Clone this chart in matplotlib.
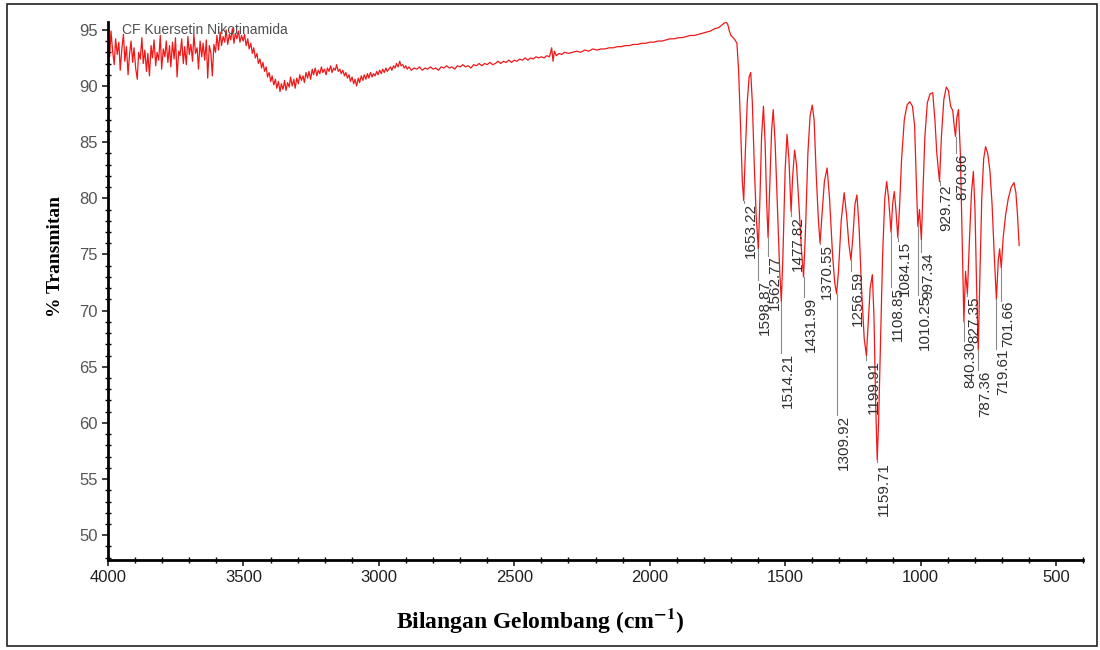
import matplotlib
matplotlib.use("Agg")
import matplotlib.pyplot as plt
from matplotlib.ticker import MultipleLocator
from matplotlib.patches import Rectangle

plt.rcParams['mathtext.fontset'] = 'stix'

# spectrum: wavenumber (cm-1) and %T
wavenumber = [
    4000, 3994, 3989, 3983, 3977, 3972, 3966, 3960, 3955, 3949, 3943, 3938, 3932, 3926, 3921,
    3915, 3909, 3904, 3898, 3892, 3887, 3881, 3875, 3870, 3864, 3858, 3853, 3847, 3841, 3836,
    3830, 3824, 3819, 3813, 3807, 3802, 3796, 3790, 3785, 3779, 3773, 3768, 3762, 3756, 3751,
    3745, 3739, 3734, 3728, 3722, 3717, 3711, 3705, 3700, 3694, 3688, 3683, 3677, 3671, 3666,
    3660, 3654, 3649, 3643, 3637, 3632, 3626, 3620, 3615, 3609, 3603, 3598, 3592, 3586, 3581,
    3575, 3569, 3564, 3558, 3552, 3547, 3541, 3535, 3530, 3524, 3518, 3513, 3507, 3501, 3496,
    3490, 3484, 3479, 3473, 3467, 3462, 3456, 3450, 3445, 3439, 3433, 3428, 3422, 3416, 3411,
    3405, 3399, 3394, 3388, 3382, 3377, 3371, 3365, 3360, 3354, 3348, 3343, 3337, 3331, 3326,
    3320, 3314, 3309, 3303, 3297, 3292, 3286, 3280, 3275, 3269, 3263, 3258, 3252, 3246, 3241,
    3235, 3229, 3224, 3218, 3212, 3207, 3201, 3195, 3190, 3184, 3178, 3173, 3167, 3161, 3156,
    3150, 3144, 3139, 3133, 3127, 3122, 3116, 3110, 3105, 3099, 3093, 3088, 3082, 3076, 3071,
    3065, 3059, 3054, 3048, 3042, 3037, 3031, 3025, 3020, 3014, 3008, 3003, 2997, 2991, 2986,
    2980, 2974, 2969, 2963, 2957, 2952, 2946, 2940, 2935, 2929, 2923, 2918, 2912, 2906, 2901,
    2895, 2889, 2880, 2870, 2860, 2850, 2840, 2830, 2820, 2810, 2800, 2790, 2780, 2770, 2760,
    2750, 2740, 2730, 2720, 2710, 2700, 2690, 2680, 2670, 2660, 2650, 2640, 2630, 2620, 2610,
    2600, 2590, 2580, 2570, 2560, 2550, 2540, 2530, 2520, 2510, 2500, 2490, 2480, 2470, 2460,
    2450, 2440, 2430, 2420, 2410, 2400, 2390, 2380, 2370, 2362, 2357, 2352, 2345, 2335, 2325,
    2315, 2300, 2285, 2270, 2255, 2240, 2225, 2210, 2195, 2180, 2165, 2150, 2135, 2120, 2105,
    2090, 2075, 2060, 2045, 2030, 2015, 2000, 1985, 1970, 1955, 1940, 1925, 1910, 1895, 1880,
    1865, 1850, 1835, 1820, 1805, 1790, 1775, 1760, 1745, 1735, 1725, 1718, 1712, 1706, 1700,
    1692, 1685, 1678, 1672, 1664, 1658, 1653, 1647, 1640, 1633, 1627, 1621, 1614, 1607, 1599,
    1593, 1587, 1580, 1574, 1568, 1563, 1557, 1550, 1544, 1537, 1528, 1520, 1514, 1508, 1500,
    1493, 1486, 1478, 1472, 1465, 1458, 1448, 1440, 1432, 1425, 1416, 1408, 1400, 1393, 1385,
    1377, 1371, 1364, 1355, 1345, 1336, 1325, 1317, 1310, 1303, 1293, 1282, 1273, 1265, 1257,
    1250, 1242, 1235, 1227, 1218, 1208, 1200, 1194, 1186, 1178, 1172, 1166, 1160, 1155, 1148,
    1140, 1132, 1125, 1118, 1109, 1103, 1097, 1091, 1084, 1078, 1070, 1060, 1050, 1040, 1030,
    1022, 1015, 1010, 1004, 997, 992, 984, 975, 965, 955, 947, 940, 930, 923, 914,
    905, 897, 889, 881, 876, 871, 866, 860, 853, 846, 840, 834, 827, 820, 812,
    805, 799, 793, 787, 781, 774, 767, 760, 752, 744, 736, 728, 720, 713, 708,
    702, 695, 686, 676, 665, 655, 648, 642, 636,
]
transmittance = [
    93.8, 92.6, 94.9, 93.1, 91.9, 94.2, 92.8, 93.9, 91.4, 93.3, 94.6, 92.2, 93.5, 91.0, 92.7,
    94.0, 92.1, 93.4, 91.6, 90.6, 93.0, 92.4, 94.3, 92.0, 93.2, 91.3, 92.9, 90.9, 93.6, 92.5,
    94.1, 91.8, 93.0, 92.3, 94.5, 91.5, 93.3, 92.6, 94.0, 92.1, 93.6, 91.7, 93.9, 92.4, 94.3,
    90.8, 93.1, 92.7, 94.2, 92.0, 93.5, 91.9, 94.4, 92.8, 93.7, 92.2, 94.6, 92.9, 93.4, 91.5,
    94.0, 92.6, 93.8, 92.3, 94.1, 90.7, 93.6, 92.9, 90.9, 93.7, 93.0, 94.5, 93.2, 94.8, 93.6,
    94.4, 93.9, 95.0, 93.7, 94.6, 94.1, 95.1, 93.8, 94.7, 94.2, 94.9, 93.9, 94.5, 94.0, 94.6,
    93.6, 94.2, 93.3, 93.8, 92.9, 93.4, 92.5, 92.9, 92.0, 92.4, 91.6, 92.1, 91.3, 91.7, 90.8,
    91.2, 90.4, 90.9, 90.1, 90.6, 89.8, 90.4, 89.5, 90.2, 89.7, 90.5, 89.6, 90.3, 89.9, 90.8,
    90.0, 90.6, 89.8, 90.7, 90.2, 91.0, 90.5, 90.9, 90.3, 91.2, 90.7, 91.3, 90.6, 91.5, 91.0,
    91.6, 90.9, 91.4, 91.1, 91.7, 91.2, 91.5, 91.0, 91.6, 91.3, 91.8, 91.2, 91.6, 91.4, 91.9,
    91.3, 91.5, 91.1, 91.4, 90.9, 91.2, 90.7, 91.0, 90.4, 90.8, 90.2, 90.6, 90.0, 90.7, 90.3,
    90.9, 90.5, 91.0, 90.6, 91.1, 90.7, 91.2, 90.8, 91.1, 90.9, 91.3, 91.0, 91.4, 91.1, 91.5,
    91.2, 91.6, 91.3, 91.5, 91.7, 91.4, 91.8, 91.6, 92.0, 91.7, 92.2, 91.8, 91.9, 91.6, 91.8,
    91.5, 91.7, 91.4, 91.6, 91.5, 91.7, 91.4, 91.6, 91.5, 91.7, 91.5, 91.6, 91.4, 91.7, 91.6,
    91.8, 91.6, 91.7, 91.5, 91.8, 91.7, 91.9, 91.7, 91.8, 91.6, 91.9, 91.8, 92.0, 91.8, 92.0,
    91.9, 92.1, 91.9, 92.0, 92.2, 92.0, 92.2, 92.1, 92.3, 92.1, 92.3, 92.2, 92.4, 92.3, 92.5,
    92.3, 92.5, 92.4, 92.6, 92.5, 92.6, 92.5, 92.7, 92.6, 93.4, 92.2, 93.1, 92.7, 92.9, 92.8,
    93.0, 92.9, 93.0, 93.1, 93.0, 93.2, 93.1, 93.3, 93.2, 93.3, 93.3, 93.4, 93.4, 93.5, 93.5,
    93.6, 93.6, 93.7, 93.7, 93.8, 93.8, 93.9, 93.9, 94.0, 94.0, 94.1, 94.2, 94.2, 94.3, 94.3,
    94.4, 94.5, 94.5, 94.6, 94.7, 94.8, 94.9, 95.1, 95.2, 95.4, 95.6, 95.7, 95.5, 94.9, 94.5,
    94.3, 94.1, 93.8, 91.5, 86.0, 81.5, 79.8, 84.0, 88.5, 90.8, 91.2, 88.5, 83.0, 78.5, 75.5,
    80.0, 85.5, 88.2, 85.0, 79.5, 76.5, 81.0, 86.0, 87.9, 85.0, 79.0, 73.5, 70.8, 75.0, 82.5,
    85.7, 83.5, 78.8, 82.0, 84.3, 83.0, 79.0, 75.5, 73.0, 77.0, 84.0, 87.3, 88.3, 87.0, 82.0,
    78.0, 76.0, 78.5, 81.5, 82.7, 80.0, 75.0, 72.5, 71.5, 73.5, 78.0, 80.5, 78.5, 76.0, 74.5,
    76.5, 79.5, 80.3, 77.5, 72.0, 67.5, 66.0, 68.5, 72.0, 73.2, 69.5, 62.0, 56.7, 60.0, 67.0,
    75.0, 80.0, 81.5, 80.0, 77.0, 79.5, 80.6, 79.0, 76.5, 79.0, 83.5, 87.0, 88.3, 88.6, 88.2,
    86.5, 81.0, 77.5, 79.0, 76.3, 80.0, 85.5, 88.5, 89.3, 89.4, 87.0, 84.0, 81.5, 85.5, 88.8,
    89.9, 89.6, 88.2, 87.8, 86.5, 85.5, 87.2, 87.9, 84.0, 76.0, 69.0, 73.5, 71.5, 76.0, 80.5,
    82.4, 79.0, 72.0, 66.5, 73.0, 80.0, 83.5, 84.6, 84.0, 82.5, 79.5, 75.0, 71.0, 74.5, 75.5,
    73.8, 76.5, 78.5, 80.0, 81.0, 81.4, 80.5, 78.5, 75.8,
]

# peak labels: position, %T at the peak, %T where the label starts
peak_wn = [1653.22, 1598.87, 1562.77, 1514.21, 1477.82, 1431.99, 1370.55, 1309.92,
           1256.59, 1199.91, 1159.71, 1108.85, 1084.15, 1010.25, 997.34, 929.72,
           870.86, 840.30, 827.35, 787.36, 719.61, 701.66]
peak_t = [79.8, 75.5, 76.5, 70.8, 78.8, 73.0, 76.0, 71.5, 74.5, 66.0, 56.7, 77.0,
          76.5, 77.5, 76.3, 81.5, 85.5, 69.0, 71.5, 66.5, 71.0, 73.8]
label_t = [79.6, 72.7, 74.9, 66.2, 78.4, 71.2, 75.9, 60.7, 73.5, 65.6, 56.5, 72.1,
           76.2, 71.4, 75.2, 81.2, 84.0, 67.3, 71.3, 64.7, 66.6, 70.9]

sample_name = "CF Kuersetin Nikotinamida"

tick_font = ['Liberation Sans Narrow', 'Liberation Sans', 'DejaVu Sans']
serif_font = ['Liberation Serif', 'DejaVu Serif']

fig = plt.figure(figsize=(11, 6.5), dpi=100)
ax = fig.add_axes([0.0982, 0.1385, 0.8864, 0.8277])

ax.plot(wavenumber, transmittance, color='#f01818', lw=0.9)

for wn, pt, lt in zip(peak_wn, peak_t, label_t):
    if lt < pt:
        ax.plot([wn, wn], [pt, lt], color='#8a8a8a', lw=0.8)
    ax.text(wn, lt, f"{wn:.2f}", rotation=90, ha='left', va='top',
            fontsize=11, color='#303030', family=['Liberation Sans', 'DejaVu Sans'])

ax.text(0.014, 0.985, sample_name, transform=ax.transAxes, ha='left', va='center',
        fontsize=10, color='#505050', family=['Liberation Sans', 'DejaVu Sans'])

ax.set_xlim(4000, 400)
ax.set_ylim(47.8, 95.7)
ax.xaxis.set_major_locator(MultipleLocator(500))
ax.xaxis.set_minor_locator(MultipleLocator(100))
ax.yaxis.set_major_locator(MultipleLocator(5))
ax.yaxis.set_minor_locator(MultipleLocator(1))

for side in ['top', 'right']:
    ax.spines[side].set_visible(False)
for side in ['left', 'bottom']:
    ax.spines[side].set_linewidth(2)

ax.tick_params(which='major', direction='out', length=4, width=1.2, labelsize=12,
               colors='#202020')
ax.tick_params(which='minor', direction='inout', length=4, width=1)
ax.tick_params(axis='y', labelcolor='#555555')
for lab in ax.get_xticklabels() + ax.get_yticklabels():
    lab.set_family(tick_font)

fig.text(0.491, 0.046, "Bilangan Gelombang (cm$^{\\mathbf{-1}}$)", ha='center', va='center',
         fontsize=17, fontweight='bold', family=serif_font)
fig.text(0.05, 0.605, "% Transmitan", rotation=90, ha='center', va='center',
         fontsize=14, fontweight='bold', family=serif_font)

# frame round the whole picture
fig.patches.append(Rectangle((0.006, 0.006), 0.991, 0.988, transform=fig.transFigure,
                             fill=False, edgecolor='#222222', lw=1.2))

fig.savefig('out.png', dpi=100)
